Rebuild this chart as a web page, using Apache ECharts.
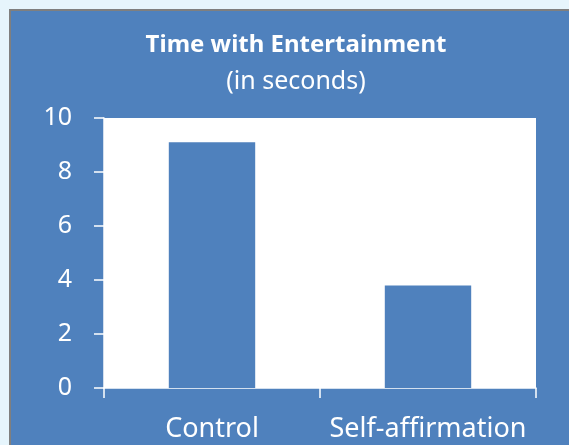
<!DOCTYPE html>
<html>
<head>
<meta charset="utf-8">
<script src="https://cdn.jsdelivr.net/npm/echarts@6/dist/echarts.min.js"></script>
<style>
html,body{margin:0;padding:0;}
#c{width:569px;height:445px;}
</style>
</head>
<body>
<div id="c"></div>
<script>
const categories = ['Control', 'Self-affirmation'];
const values = [9.1, 3.8];
const yTicks = [0, 2, 4, 6, 8, 10];

const chart = echarts.init(document.getElementById('c'));
const FONT = 'Noto Sans';
chart.setOption({
  backgroundColor: '#E6F5FC',
  animation: false,
  graphic: [{
    type: 'rect',
    z: -10,
    shape: { x: 10, y: 10, width: 580, height: 460 },
    style: { fill: '#4F81BD', stroke: '#7F7F7F', lineWidth: 2 }
  }],
  title: {
    text: 'Time with Entertainment',
    subtext: '(in seconds)',
    left: 291,
    textAlign: 'center',
    top: 28,
    itemGap: 12,
    textStyle: { color: '#ffffff', fontFamily: FONT, fontSize: 24, fontWeight: 'bold' },
    subtextStyle: { color: '#ffffff', fontFamily: FONT, fontSize: 25 }
  },
  grid: {
    left: 104, right: 33, top: 118, bottom: 57,
    show: true, backgroundColor: '#ffffff', borderWidth: 0
  },
  xAxis: {
    type: 'category',
    data: categories,
    axisLine: { lineStyle: { color: '#ffffff', width: 1.5 } },
    axisTick: { show: true, length: 10, lineStyle: { color: '#ffffff', width: 1.5 } },
    axisLabel: { color: '#ffffff', fontFamily: FONT, fontSize: 27, margin: 28, interval: 0 }
  },
  yAxis: {
    type: 'value',
    min: yTicks[0], max: yTicks[yTicks.length - 1], interval: 2,
    axisLine: { show: true, lineStyle: { color: '#ffffff', width: 1.5 } },
    axisTick: { show: true, length: 10, lineStyle: { color: '#ffffff', width: 1.5 } },
    splitLine: { show: false },
    axisLabel: { color: '#ffffff', fontFamily: FONT, fontSize: 25, margin: 32 }
  },
  series: [{
    type: 'bar',
    data: values,
    barWidth: '40%',
    itemStyle: { color: '#4F81BD' }
  }]
});
</script>
</body>
</html>
